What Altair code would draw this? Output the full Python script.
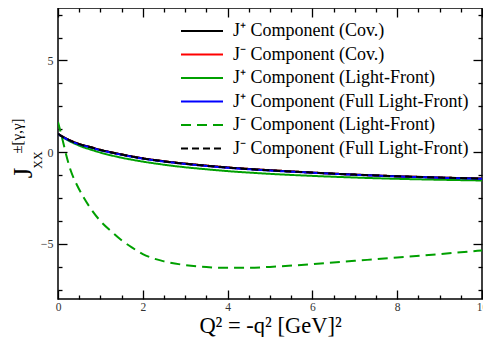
import altair as alt
import pandas as pd

# ---- data ----
q2 = [0, 0.1, 0.2, 0.3, 0.45, 0.6, 0.75, 1, 1.25, 1.5, 1.75, 2, 2.5, 3, 3.5, 4, 4.5, 5, 6, 7, 8, 9, 10]

jplus_cov = [1.0, 0.86, 0.74, 0.63, 0.49, 0.38, 0.29, 0.13, 0.0, -0.12, -0.23, -0.33, -0.49, -0.62,
             -0.73, -0.83, -0.91, -0.98, -1.11, -1.22, -1.31, -1.38, -1.44]
jminus_cov = [1.0, 0.86, 0.74, 0.63, 0.49, 0.38, 0.29, 0.13, 0.0, -0.12, -0.23, -0.33, -0.49, -0.62,
              -0.73, -0.83, -0.91, -0.98, -1.11, -1.22, -1.31, -1.38, -1.44]
jplus_lf = [1.0, 0.84, 0.70, 0.57, 0.41, 0.27, 0.16, -0.02, -0.17, -0.30, -0.41, -0.51, -0.68, -0.82,
            -0.93, -1.03, -1.11, -1.18, -1.29, -1.38, -1.45, -1.50, -1.54]
jplus_flf = [1.0, 0.84, 0.72, 0.61, 0.47, 0.36, 0.27, 0.11, -0.02, -0.14, -0.25, -0.35, -0.51, -0.64,
             -0.75, -0.85, -0.93, -1.0, -1.12, -1.23, -1.32, -1.39, -1.45]
jminus_lf = [1.65, 0.75, -0.2, -1.0, -1.8, -2.45, -3.0, -3.75, -4.3, -4.8, -5.2, -5.55, -5.95, -6.15,
             -6.26, -6.3, -6.3, -6.25, -6.1, -5.92, -5.74, -5.55, -5.35]
jminus_flf = [1.0, 0.85, 0.73, 0.62, 0.48, 0.37, 0.28, 0.12, -0.01, -0.13, -0.24, -0.34, -0.50, -0.63,
              -0.74, -0.84, -0.92, -0.99, -1.11, -1.22, -1.31, -1.38, -1.44]

names = [
    "J⁺ Component (Cov.)",
    "J⁻ Component  (Cov.)",
    "J⁺ Component (Light-Front)",
    "J⁺ Component (Full Light-Front)",
    "J⁻ Component (Light-Front)",
    "J⁻ Component (Full Light-Front)",
]
series = [jplus_cov, jminus_cov, jplus_lf, jplus_flf, jminus_lf, jminus_flf]
colors = ["#000000", "#ff0000", "#00a000", "#0000ff", "#00a000", "#000000"]
dashes = [[1, 0], [1, 0], [1, 0], [1, 0], [10, 6], [7, 4]]
draw_order = [1, 0, 2, 3, 4, 5]

x_major = [0, 2, 4, 6, 8, 10]
x_ticks = [i * 0.5 for i in range(21)]
y_major = [-5, 0, 5]
y_ticks = [-7.5 + i * 1.25 for i in range(13)]

rows = []
for k, idx in enumerate(draw_order):
    for x, v in zip(q2, series[idx]):
        rows.append({"q2": x, "val": v, "series": names[idx], "ord": k})
df = pd.DataFrame(rows)

W, H = 424, 291
FONT = "Liberation Serif"

xscale = alt.Scale(domain=[0, 10], nice=False, zero=False)
yscale = alt.Scale(domain=[-8, 7.86], nice=False, zero=False)

leg = alt.Legend(
    orient="none", legendX=135, legendY=14, title=None,
    symbolType="M-3,0H3", symbolSize=196, symbolStrokeWidth=2,
    labelFont=FONT, labelFontSize=18, labelColor="#000", labelOffset=22,
    labelLimit=600, rowPadding=5.5, padding=0,
)

lines = alt.Chart(df).mark_line(strokeWidth=2, interpolate="monotone", clip=True).encode(
    x=alt.X("q2:Q", scale=xscale, axis=alt.Axis(
        values=x_major, ticks=False, domain=False, grid=False, labelFlush=False,
        labelFont=FONT, labelFontSize=11.5, labelColor="#333", labelPadding=2,
        title="Q² = -q² [GeV]²", titleFont=FONT, titleFontSize=22.5,
        titleFontWeight="normal", titleColor="#000",
        titleY=33, titleBaseline="alphabetic")),
    y=alt.Y("val:Q", scale=yscale, axis=alt.Axis(
        values=y_major, ticks=False, domain=False, grid=False, labelFlush=False,
        labelFont=FONT, labelFontSize=12, labelColor="#333", labelPadding=5,
        title=None)),
    color=alt.Color("series:N", scale=alt.Scale(domain=names, range=colors), legend=leg),
    strokeDash=alt.StrokeDash("series:N", scale=alt.Scale(domain=names, range=dashes), legend=leg),
    detail="ord:O",
    order="q2:Q",
)

xt = {"condition": {"test": "datum.value % 2 === 0", "value": 9}, "value": 4}
yt = {"condition": {"test": "datum.value % 5 === 0", "value": 9}, "value": 4}

def tick_axis(orient, off, vals, ts):
    return alt.Axis(orient=orient, offset=off, values=vals, labels=False, title=None,
                    domain=False, grid=False, tickSize=ts, tickWidth=1.3, tickColor="#000")

ticks1 = alt.Chart(df).mark_point(opacity=0).encode(
    x=alt.X("q2:Q", scale=xscale, axis=tick_axis("top", -H, x_ticks, xt)),
    y=alt.Y("val:Q", scale=yscale, axis=tick_axis("right", -W, y_ticks, yt)),
)
ticks2 = alt.Chart(df).mark_point(opacity=0).encode(
    x=alt.X("q2:Q", scale=xscale, axis=tick_axis("bottom", -H, x_ticks, xt)),
    y=alt.Y("val:Q", scale=yscale, axis=tick_axis("left", -W, y_ticks, yt)),
)

ytitle_txt = ["J", "XX", "±[γ,γ]"]
ytitle_df = pd.DataFrame({"t": ytitle_txt, "px": [-34, -20, -41], "py": [165, 152, 128],
                          "fs": [27, 12, 15]})
ytitle = alt.Chart(ytitle_df).mark_text(font=FONT, angle=270, align="center",
                                        baseline="middle", color="#000").encode(
    x=alt.X("px:Q", scale=None),
    y=alt.Y("py:Q", scale=None),
    text="t:N",
    size=alt.Size("fs:Q", scale=None, legend=None),
)

chart = alt.layer(lines, ticks1, ticks2, ytitle).resolve_axis(
    x="independent", y="independent"
).properties(
    width=W, height=H,
    autosize=alt.AutoSizeParams(type="none"),
    padding={"left": 50, "top": 0, "right": 1, "bottom": 38},
).configure(font=FONT).configure_view(stroke="#000", strokeWidth=1.5)

chart.save("out.html", embed_options={"renderer": "svg", "actions": False})
